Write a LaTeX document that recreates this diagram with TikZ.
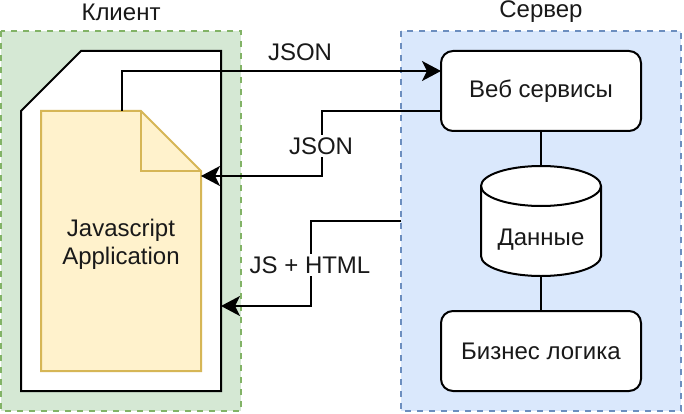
\documentclass[tikz,border=0pt]{standalone}
\usepackage{fontspec}
\setmainfont{Liberation Sans}
\usetikzlibrary{arrows.meta}
\definecolor{gfill}{HTML}{D5E8D4}
\definecolor{gline}{HTML}{82B366}
\definecolor{bfill}{HTML}{DAE8FC}
\definecolor{bline}{HTML}{6C8EBF}
\definecolor{yfill}{HTML}{FFF2CC}
\definecolor{yline}{HTML}{D6B656}
\tikzset{
  x=1pt,y=-1pt,
  every node/.style={font=\fontsize{24}{28}\selectfont,text=black!90,inner sep=0pt,outer sep=0pt},
  zone/.style={draw,line width=2pt,dash pattern=on 6pt off 6pt},
  outl/.style={draw=black,line width=2pt,line join=miter},
  svc/.style={draw=black,fill=white,line width=2pt,rounded corners=12pt,minimum width=200pt,minimum height=80pt,anchor=north west},
  link/.style={draw=black,line width=2pt},
  flow/.style={link,-{Stealth[length=19pt,width=20pt,inset=5pt]}},
  lbl/.style={fill=white,inner sep=3pt}
}
\begin{document}
\begin{tikzpicture}
\useasboundingbox (0,0) rectangle (684,414);
\fill[white] (0,0) rectangle (684,414);
% zones
\path[zone,draw=gline,fill=gfill] (1,31) rectangle (241,411);
\path[zone,draw=bline,fill=bfill] (401,31) rectangle (681,411);
\node (clientlbl) at (121,12) {Клиент};
\node (serverlbl) at (541,12) {Сервер};
% page
\path[outl,fill=white] (81,51) -- (221,51) -- (221,391) -- (21,391) -- (21,111) -- cycle;
% script doc
\path[draw=yline,fill=yfill,line width=2pt] (41,111) -- (141,111) -- (201,171) -- (201,371) -- (41,371) -- cycle;
\path[draw=yline,line width=2pt] (141,111) -- (141,171) -- (201,171);
\node[align=center] (app) at (121,244) {Javascript\\Application};
% services
\node[svc] (web) at (441,51) {Веб сервисы};
\node[svc] (biz) at (441,311) {Бизнес логика};
% database
\node[minimum width=120pt,minimum height=110pt] (db) at (541,221) {};
\path[outl,fill=white] (481,186) arc[x radius=60,y radius=-20,start angle=180,end angle=0] -- (601,256) arc[x radius=60,y radius=20,start angle=0,end angle=180] -- cycle;
\path[outl] (481,186) arc[x radius=60,y radius=20,start angle=180,end angle=0];
\node (dblbl) at (541,240) {Данные};
\draw[link] (web.south) -- (db.north);
\draw[link] (db.south) -- (biz.north);
% anchors
\coordinate (appTop) at (121.5,111);
\coordinate (webIn) at (441,71);
\coordinate (webOut) at (441,111);
\coordinate (appSide) at (201,176);
\coordinate (srvOut) at (401,221);
\coordinate (pageSide) at (221,306);
% connectors
\draw[flow] (appTop) -- (121.5,71) -- (webIn);
\draw[flow] (webOut) -- (321.5,111) -- (321.5,176) -- (appSide);
\draw[flow] (srvOut) -- (311,221) -- (311,306) -- (pageSide);
% labels
\node (j1) at (300,52) {JSON};
\node[lbl] (j2) at (321,146) {JSON};
\node[lbl] (j3) at (310,265) {JS + HTML};
\end{tikzpicture}
\end{document}
